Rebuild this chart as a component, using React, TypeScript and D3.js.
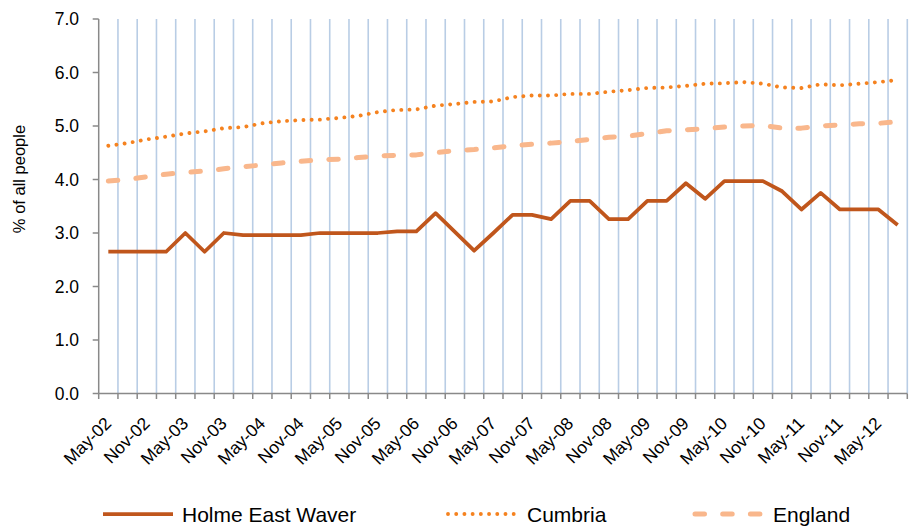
import * as d3 from "d3";

// quarterly categories, May-02 .. Aug-12
const categories = [
  "May-02", "Aug-02", "Nov-02", "Feb-03", "May-03", "Aug-03", "Nov-03", "Feb-04",
  "May-04", "Aug-04", "Nov-04", "Feb-05", "May-05", "Aug-05", "Nov-05", "Feb-06",
  "May-06", "Aug-06", "Nov-06", "Feb-07", "May-07", "Aug-07", "Nov-07", "Feb-08",
  "May-08", "Aug-08", "Nov-08", "Feb-09", "May-09", "Aug-09", "Nov-09", "Feb-10",
  "May-10", "Aug-10", "Nov-10", "Feb-11", "May-11", "Aug-11", "Nov-11", "Feb-12",
  "May-12", "Aug-12",
];

const holmeEastWaver = [
  2.65, 2.65, 2.65, 2.65, 3.0, 2.65, 3.0, 2.96, 2.96, 2.96, 2.96, 3.0, 3.0, 3.0,
  3.0, 3.03, 3.03, 3.37, 3.02, 2.67, 3.0, 3.34, 3.34, 3.26, 3.6, 3.6, 3.26, 3.26,
  3.6, 3.6, 3.93, 3.64, 3.97, 3.97, 3.97, 3.78, 3.44, 3.75, 3.44, 3.44, 3.44, 3.15,
];

const cumbria = [
  4.63, 4.68, 4.75, 4.8, 4.86, 4.9, 4.96, 4.98, 5.05, 5.09, 5.11, 5.12, 5.15, 5.19,
  5.26, 5.3, 5.31, 5.38, 5.41, 5.45, 5.46, 5.54, 5.57, 5.57, 5.6, 5.6, 5.64, 5.67,
  5.71, 5.72, 5.75, 5.79, 5.8, 5.82, 5.79, 5.72, 5.71, 5.78, 5.76, 5.79, 5.82, 5.86,
];

const england = [
  3.97, 4.0, 4.05, 4.1, 4.13, 4.16, 4.2, 4.24, 4.27, 4.31, 4.34, 4.37, 4.38, 4.41,
  4.44, 4.45, 4.46, 4.5, 4.54, 4.56, 4.59, 4.63, 4.66, 4.68, 4.71, 4.75, 4.79, 4.81,
  4.86, 4.91, 4.93, 4.95, 4.98, 5.0, 5.01, 4.96, 4.96, 5.0, 5.02, 5.04, 5.05, 5.08,
];

const yTicks = [0, 1, 2, 3, 4, 5, 6, 7];

const FONT = "Liberation Sans, Arial, sans-serif";
const AXIS = "#898989";
const GRID = "#B9CDE5";

const series = [
  { name: "Holme East Waver", values: holmeEastWaver, color: "#C0561C", width: 3.75, dash: undefined, cap: "butt" },
  { name: "Cumbria", values: cumbria, color: "#F5821F", width: 3.9, dash: "0.01 8.2", cap: "round" },
  { name: "England", values: england, color: "#F9B78C", width: 5, dash: "9.5 18.2", cap: "round" },
];

const legendPos = [
  { x1: 103, text: 182 },
  { x1: 448, text: 527 },
  { x1: 695, text: 773 },
];

export default function App() {
  const left = 98.7;
  const right = 907.3;
  const top = 19;
  const bottom = 393.5;

  const x = d3.scaleBand<string>().domain(categories).range([left, right]).padding(0);
  const y = d3.scaleLinear().domain([0, 7]).range([bottom, top]);
  const cx = (c: string) => (x(c) ?? 0) + x.bandwidth() / 2;

  const line = d3
    .line<number>()
    .x((_, i) => cx(categories[i]))
    .y((d) => y(d));

  const boundaries = [...categories.map((c) => x(c) ?? 0), right];

  return (
    <svg width={910} height={526} style={{ position: "absolute", left: 0, top: 0, background: "#fff" }}>
      {/* vertical gridlines at category boundaries */}
      {boundaries.slice(1).map((b, i) => (
        <line key={`g${i}`} x1={b} x2={b} y1={top} y2={bottom} stroke={GRID} strokeWidth={1.6} />
      ))}

      {/* y axis */}
      <line x1={left} x2={left} y1={top} y2={bottom} stroke={AXIS} strokeWidth={1.5} />
      {yTicks.map((t) => (
        <g key={`y${t}`}>
          <line x1={left - 6} x2={left} y1={y(t)} y2={y(t)} stroke={AXIS} strokeWidth={1.5} />
          <text x={79} y={y(t)} dy="0.36em" textAnchor="end" fontFamily={FONT} fontSize={17.5} fill="#000">
            {t.toFixed(1)}
          </text>
        </g>
      ))}
      <text
        transform={`translate(25, 179) rotate(-90)`}
        textAnchor="middle"
        fontFamily={FONT}
        fontSize={16.5}
        fill="#000"
      >
        % of all people
      </text>

      {/* x axis */}
      <line x1={left} x2={right} y1={bottom} y2={bottom} stroke={AXIS} strokeWidth={1.5} />
      {boundaries.map((b, i) => (
        <line key={`xt${i}`} x1={b} x2={b} y1={bottom} y2={bottom + 5.5} stroke={AXIS} strokeWidth={1.5} />
      ))}
      {categories.map((c, i) =>
        i % 2 === 0 ? (
          <text
            key={`xl${c}`}
            transform={`translate(${cx(c) + 4}, ${bottom + 31}) rotate(-45)`}
            textAnchor="end"
            fontFamily={FONT}
            fontSize={17.5}
            fill="#000"
          >
            {c}
          </text>
        ) : null
      )}

      {/* series, drawn back to front */}
      {[...series].reverse().map((s) => (
        <path
          key={s.name}
          d={line(s.values) ?? ""}
          fill="none"
          stroke={s.color}
          strokeWidth={s.width}
          strokeDasharray={s.dash}
          strokeLinecap={s.cap as any}
          strokeLinejoin="round"
        />
      ))}

      {/* legend */}
      {series.map((s, i) => (
        <g key={`lg${s.name}`}>
          <line
            x1={legendPos[i].x1}
            x2={legendPos[i].x1 + 70}
            y1={514}
            y2={514}
            stroke={s.color}
            strokeWidth={s.width}
            strokeDasharray={s.dash}
            strokeLinecap={s.cap as any}
          />
          <text x={legendPos[i].text} y={521.5} fontFamily={FONT} fontSize={21} fill="#000">
            {s.name}
          </text>
        </g>
      ))}
    </svg>
  );
}
